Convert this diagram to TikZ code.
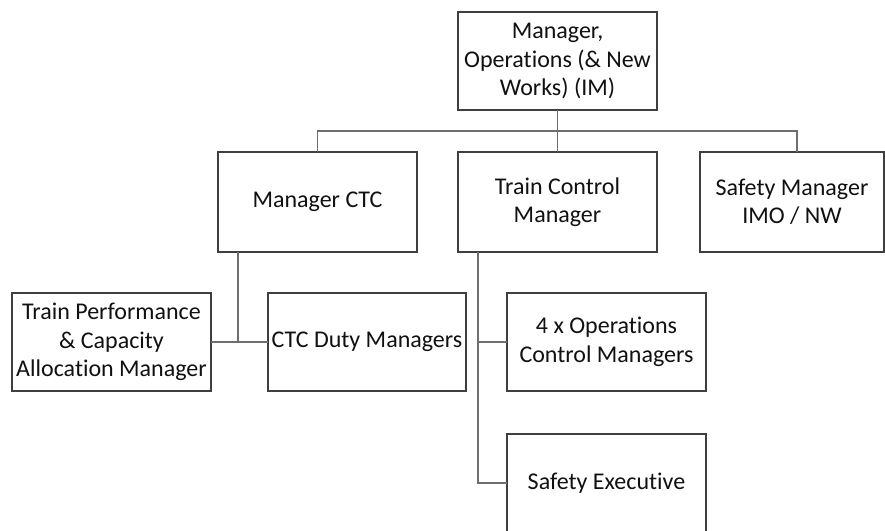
\documentclass[tikz,border=0pt]{standalone}
\usepackage{fontspec}
\setmainfont{Carlito}[Ligatures={NoCommon}]
\usetikzlibrary{calc}
\definecolor{boxline}{HTML}{3F3F3F}
\definecolor{linkline}{HTML}{6E6E6E}
\definecolor{txt}{HTML}{111111}
\begin{document}
\begin{tikzpicture}[x=1pt,y=-1pt,
  box/.style={draw=boxline,line width=1.3pt,inner sep=0pt,outer sep=0pt,
    align=center,text=txt,font=\fontsize{24}{28.5}\selectfont,
    minimum width=199pt,minimum height=99pt},
  link/.style={draw=linkline,line width=1.3pt}]
  \clip (0,0) rectangle (885,530);
  \fill[white] (0,0) rectangle (885,530);

  % top level
  \node[box,minimum height=98pt] (top) at (557.5,61) {Manager,\\Operations (\& New\\Works) (IM)};

  % second level
  \node[box,minimum height=100pt] (ctc) at (317.5,202) {Manager CTC};
  \node[box,minimum height=100pt] (tcm) at (557.5,202) {Train Control\\Manager};
  \node[box,minimum height=100pt,minimum width=184pt] (smg) at (792,202) {Safety Manager\\IMO / NW};

  % third level
  \node[box,minimum height=98pt] (tpc) at (111.5,342) {Train Performance\\\& Capacity\\Allocation Manager};
  \node[box,minimum height=98pt,minimum width=198pt] (cdm) at (367,342) {CTC Duty Managers};
  \node[box,minimum height=98pt] (ocm) at (606.5,342) {4 x Operations\\Control Managers};
  \node[box,minimum height=98pt] (sex) at (606.5,483) {Safety Executive};

  % reporting lines
  \coordinate (bus) at ($(top.south)!0.5!(tcm.north)$);
  \draw[link] (top.south) -- (tcm.north);
  \draw[link] (ctc.north) |- (bus) -| ($(smg.north)+(5,0)$);

  \coordinate (ctcdrop) at ($(ctc.south)+(-79.5,0)$);
  \draw[link] (ctcdrop) |- (tpc.east);
  \draw[link] (tpc.east) -- (cdm.west);

  \coordinate (tcmdrop) at ($(tcm.south)+(-79.5,0)$);
  \draw[link] (tcmdrop) |- (ocm.west);
  \draw[link] (tcmdrop) |- (sex.west);
\end{tikzpicture}
\end{document}
